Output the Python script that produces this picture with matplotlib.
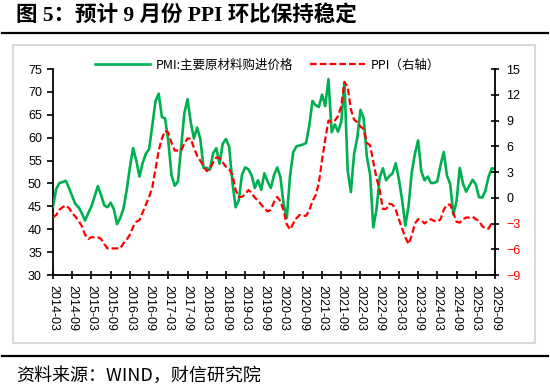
import matplotlib

matplotlib.use("Agg")
import matplotlib.pyplot as plt
import numpy as np
import pandas as pd
from matplotlib.lines import Line2D
from matplotlib.patches import Rectangle

# monthly, 2014-03 .. 2025-09
months = pd.date_range("2014-03-01", "2025-09-01", freq="MS")

# PMI: 主要原材料购进价格 (left axis)
pmi_price = [
    44.9, 48.8, 50.1, 50.3, 50.6, 49.0, 47.2, 45.5, 44.8, 43.5,  # 2014 Mar-Dec
    41.9, 43.5, 45.0, 47.2, 49.4, 47.5, 45.2, 44.8, 45.8, 44.4, 41.1, 42.5,  # 2015
    44.5, 48.5, 53.5, 57.7, 55.0, 51.5, 54.5, 56.5, 57.5, 62.6, 68.0, 69.6,  # 2016
    64.5, 64.2, 59.3, 51.8, 49.5, 50.4, 57.9, 65.3, 68.4, 63.4, 59.8, 62.2,  # 2017
    59.7, 53.4, 53.4, 53.0, 56.6, 57.7, 54.3, 58.7, 59.7, 58.0, 50.3, 44.8,  # 2018
    46.3, 51.9, 53.5, 53.1, 51.8, 49.0, 50.7, 48.6, 52.2, 50.4, 49.0, 51.8,  # 2019
    53.5, 51.4, 45.5, 42.5, 51.6, 56.8, 58.1, 58.3, 58.5, 58.8, 62.6, 68.0,  # 2020
    67.1, 66.7, 69.4, 66.9, 72.8, 61.2, 62.9, 61.3, 63.5, 72.1, 52.9, 48.1,  # 2021
    56.4, 60.0, 66.1, 64.2, 55.8, 52.0, 40.4, 44.3, 51.3, 53.3, 50.7, 51.6,  # 2022
    52.2, 54.4, 50.9, 46.4, 40.8, 45.0, 52.4, 56.5, 59.4, 52.6, 50.7, 51.5,  # 2023
    50.1, 50.1, 50.5, 54.0, 56.9, 51.7, 49.9, 43.2, 46.2, 53.4, 50.0, 48.2,  # 2024
    49.5, 50.8, 49.8, 47.0, 46.9, 48.4, 51.5, 53.3, 53.2,  # 2025 Jan-Sep
]

# PPI 同比 (right axis), Sep 2025 not yet published
ppi_yoy = [
    -2.3, -2.0, -1.4, -1.1, -0.9, -1.2, -1.8, -2.2, -2.7, -3.3,
    -4.3, -4.8, -4.6, -4.6, -4.6, -4.8, -5.4, -5.9, -5.9, -5.9, -5.9, -5.9,
    -5.3, -4.9, -4.3, -3.4, -2.8, -2.6, -1.7, -0.8, 0.1, 1.2, 3.3, 5.5,
    6.9, 7.8, 7.6, 6.4, 5.5, 5.5, 5.5, 6.3, 6.9, 6.9, 5.8, 4.9,
    4.3, 3.7, 3.1, 3.4, 4.1, 4.7, 4.6, 4.1, 3.6, 3.3, 2.7, 0.9,
    0.1, 0.1, 0.4, 0.9, 0.6, 0.0, -0.3, -0.8, -1.2, -1.6, -1.4, -0.5,
    0.1, -0.4, -1.5, -3.1, -3.7, -3.0, -2.4, -2.0, -2.1, -2.1, -1.5, -0.4,
    0.3, 1.7, 4.4, 6.8, 9.0, 8.8, 9.0, 9.5, 10.7, 13.5, 12.9, 10.3,
    9.1, 8.8, 8.3, 8.0, 6.4, 6.1, 4.2, 2.3, 0.9, -1.3, -1.3, -0.7,
    -0.8, -1.4, -2.5, -3.6, -4.6, -5.4, -4.4, -3.0, -2.5, -2.6, -3.0, -2.7,
    -2.5, -2.7, -2.8, -2.5, -1.4, -0.8, -0.8, -1.8, -2.8, -2.9, -2.5, -2.3,
    -2.3, -2.2, -2.5, -2.7, -3.3, -3.6, -3.6, -2.9, np.nan,
]

left_ticks = list(range(30, 76, 5))
right_ticks = list(range(-9, 16, 3))
title = "图 5：预计 9 月份 PPI 环比保持稳定"
source = "资料来源：WIND，财信研究院"

GREEN = "#00B050"
RED = "#FF0000"
CJK = ["Noto Sans CJK SC", "DejaVu Sans"]
NUM = ["Liberation Sans", "DejaVu Sans"]

W, H = 550, 389


def fx(px):
    return px / W


def fy(py):
    return 1 - py / H


fig = plt.figure(figsize=(5.5, 3.89), dpi=100)

# frame and rules
fig.add_artist(Rectangle((fx(13), fy(343)), fx(535) - fx(13), fy(45) - fy(343),
                         transform=fig.transFigure, fill=False, ec="#d9d9d9", lw=1.5))
fig.add_artist(Line2D([fx(2), fx(548)], [fy(33)] * 2, transform=fig.transFigure, color="black", lw=1.6))
fig.add_artist(Line2D([fx(2), fx(548)], [fy(356)] * 2, transform=fig.transFigure, color="black", lw=1.6))

fig.text(fx(16), fy(15), title, fontsize=15.5, fontweight="bold", va="center", ha="left",
         family=["Liberation Serif", "Noto Sans CJK SC"])
fig.text(fx(16), fy(375.5), source, fontsize=13, va="center", ha="left", family=CJK)

ax = fig.add_axes([fx(53), fy(275), fx(495) - fx(53), fy(69) - fy(275)])
ax2 = ax.twinx()

x = np.arange(len(months))
(l1,) = ax.plot(x, pmi_price, color=GREEN, lw=1.9, zorder=3, label="PMI:主要原材料购进价格")
(l2,) = ax2.plot(x, ppi_yoy, color=RED, lw=1.6, dashes=(3, 1.4), zorder=4, label="PPI（右轴）")

ax.set_xlim(0, len(months) - 1)
ax.set_ylim(30, 75)
ax.set_yticks(left_ticks)
ax2.set_ylim(-9, 15)
ax2.set_yticks(right_ticks)

tick_pos = x[::6]
ax.set_xticks(tick_pos)
ax.set_xticklabels([m.strftime("%Y-%m") for m in months[::6]], rotation=-90, family=NUM, fontsize=9)

for a in (ax, ax2):
    for s in a.spines.values():
        s.set_linewidth(1.3)
    a.spines["top"].set_visible(False)
ax.spines["right"].set_visible(False)
ax2.spines["left"].set_visible(False)
ax2.spines["bottom"].set_visible(False)

ax.tick_params(axis="y", direction="out", length=4, width=1.2, pad=4, labelsize=9)
ax.tick_params(axis="x", direction="inout", length=6, width=1.2, pad=4)
ax2.tick_params(axis="y", direction="inout", length=6, width=1.2, pad=5, labelsize=9)
for lab in ax.get_yticklabels():
    lab.set_family(NUM)
for lab, v in zip(ax2.get_yticklabels(), right_ticks):
    lab.set_family(NUM)
    lab.set_color(RED if v < 0 else "black")

fig.legend(handles=[l1, l2], loc="center", bbox_to_anchor=(fx(267.5), fy(65)), ncol=2, frameon=False,
           prop={"family": CJK, "size": 9}, handlelength=4.4, handletextpad=0.4, columnspacing=1.4)

fig.savefig("out.png", dpi=100)
plt.close(fig)
